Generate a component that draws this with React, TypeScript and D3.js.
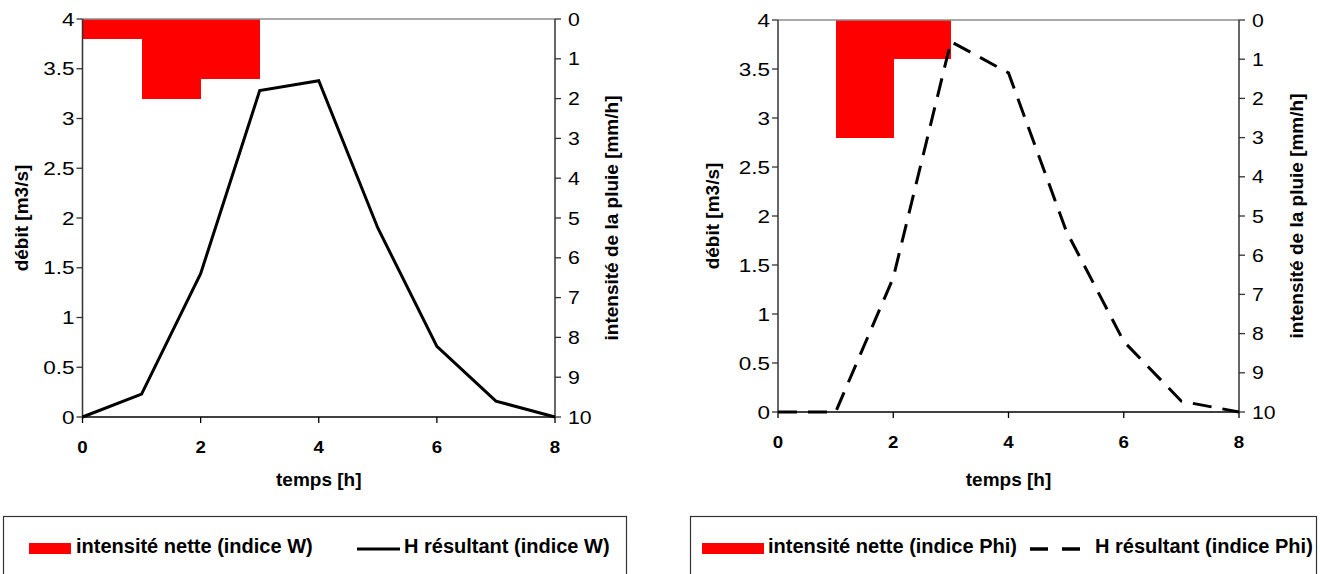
import React from "react";
import * as d3 from "d3";

const hours = [0, 1, 2, 3, 4, 5, 6, 7, 8];
const flowW = [0, 0.23, 1.44, 3.28, 3.38, 1.9, 0.71, 0.16, 0];
const flowPhi = [0, 0, 1.37, 3.78, 3.46, 1.85, 0.72, 0.11, 0];
const rainStart = [0, 1, 2];
const rainW = [0.5, 2, 1.5];
const rainPhi = [0, 3, 1];
const flowTicks = [0, 0.5, 1, 1.5, 2, 2.5, 3, 3.5, 4];
const rainTicks = [0, 1, 2, 3, 4, 5, 6, 7, 8, 9, 10];
const timeTicks = [0, 2, 4, 6, 8];

const FONT = "'Liberation Sans', Arial, Helvetica, sans-serif";

type ChartProps = {
  left: number;
  right: number;
  top: number;
  bottom: number;
  flow: number[];
  rain: number[];
  dashed: boolean;
  leftTitleX: number;
  rightTitleX: number;
};

function Chart({ left, right, top, bottom, flow, rain, dashed, leftTitleX, rightTitleX }: ChartProps) {
  const x = d3.scaleLinear().domain([0, 8]).range([left, right]);
  const y = d3.scaleLinear().domain([0, 4]).range([bottom, top]);
  const yr = d3.scaleLinear().domain([0, 10]).range([top, bottom]);
  const line = d3
    .line<number>()
    .x((_, i) => x(hours[i]))
    .y((d) => y(d));
  const midY = (top + bottom) / 2;
  return (
    <g>
      <g shapeRendering="crispEdges">
        {rain.map((v, i) =>
          v > 0 ? (
            <rect
              key={i}
              x={x(rainStart[i])}
              y={yr(0)}
              width={x(rainStart[i] + 1) - x(rainStart[i]) + 0.6}
              height={yr(v) - yr(0)}
              fill="#ff0000"
            />
          ) : null
        )}
      </g>
      <line x1={left} x2={right} y1={top} y2={top} stroke="#8c8c8c" strokeWidth={1.3} />
      <line x1={left} x2={left} y1={top} y2={bottom} stroke="#333" strokeWidth={1.5} />
      <line x1={right} x2={right} y1={top} y2={bottom} stroke="#333" strokeWidth={1.5} />
      {flowTicks.map((t) => (
        <g key={"l" + t}>
          <line x1={left - 6} x2={left} y1={y(t)} y2={y(t)} stroke="#333" strokeWidth={1.3} />
          <text
            transform={`translate(${left - 8},${y(t) + 6.5}) scale(1.25,1)`}
            textAnchor="end"
            fontSize={18}
            fontFamily={FONT}
            fill="#000"
          >
            {String(t)}
          </text>
        </g>
      ))}
      {rainTicks.map((t) => (
        <g key={"r" + t}>
          <line x1={right} x2={right + 6} y1={yr(t)} y2={yr(t)} stroke="#333" strokeWidth={1.3} />
          <text
            transform={`translate(${right + 13},${yr(t) + 6.5}) scale(1.18,1)`}
            textAnchor="start"
            fontSize={18}
            fontFamily={FONT}
            fill="#000"
          >
            {String(t)}
          </text>
        </g>
      ))}
      {timeTicks.map((t) => (
        <g key={"x" + t}>
          <line x1={x(t)} x2={x(t)} y1={bottom} y2={bottom + 6} stroke="#000" strokeWidth={1.3} />
          <text
            transform={`translate(${x(t)},${bottom + 36}) scale(1.1,1)`}
            textAnchor="middle"
            fontSize={17}
            fontWeight="bold"
            fontFamily={FONT}
            fill="#000"
          >
            {String(t)}
          </text>
        </g>
      ))}
      <path
        d={line(flow) || ""}
        fill="none"
        stroke="#000"
        strokeWidth={3}
        strokeDasharray={dashed ? "19 11" : undefined}
        strokeLinejoin="miter"
      />
      <line x1={left} x2={right} y1={bottom} y2={bottom} stroke="#000" strokeWidth={1.5} />
      <text
        transform={`translate(${leftTitleX},${midY}) rotate(-90)`}
        textAnchor="middle"
        fontSize={19}
        fontWeight="bold"
        fontFamily={FONT}
        fill="#000"
      >
        débit [m3/s]
      </text>
      <text
        transform={`translate(${rightTitleX},${midY}) rotate(-90)`}
        textAnchor="middle"
        fontSize={19}
        fontWeight="bold"
        fontFamily={FONT}
        fill="#000"
      >
        intensité de la pluie [mm/h]
      </text>
      <text x={(left + right) / 2} y={486} textAnchor="middle" fontSize={19} fontWeight="bold" fontFamily={FONT} fill="#000">
        temps [h]
      </text>
    </g>
  );
}

export default function App() {
  return (
    <div style={{ position: "absolute", left: 0, top: 0 }}>
      <svg width={1320} height={574} style={{ display: "block", background: "#fff" }}>
        <rect x={0} y={0} width={1320} height={574} fill="#fff" />
        <Chart left={82.5} right={555} top={19} bottom={417} flow={flowW} rain={rainW} dashed={false} leftTitleX={28} rightTitleX={618} />
        <Chart left={778} right={1239} top={20} bottom={412} flow={flowPhi} rain={rainPhi} dashed={true} leftTitleX={719} rightTitleX={1303} />

        <rect x={3.5} y={516.5} width={623} height={70} fill="#fff" stroke="#333" strokeWidth={1.2} />
        <rect x={29} y={543} width={42} height={11} fill="#ff0000" />
        <text x={76} y={553} fontSize={20} fontWeight="bold" fontFamily={FONT} fill="#000">
          intensité nette (indice W)
        </text>
        <line x1={357} x2={400} y1={549} y2={549} stroke="#000" strokeWidth={3} />
        <text x={404} y={553} fontSize={20} fontWeight="bold" fontFamily={FONT} fill="#000">
          H résultant (indice W)
        </text>

        <rect x={690.5} y={516.5} width={626} height={70} fill="#fff" stroke="#333" strokeWidth={1.2} />
        <rect x={702} y={543} width={62} height={11} fill="#ff0000" />
        <text x={768} y={553} fontSize={20} fontWeight="bold" fontFamily={FONT} fill="#000">
          intensité nette (indice Phi)
        </text>
        <line x1={1030} x2={1080} y1={549} y2={549} stroke="#000" strokeWidth={3.5} strokeDasharray="18 14" />
        <text x={1095} y={553} fontSize={20} fontWeight="bold" fontFamily={FONT} fill="#000">
          H résultant (indice Phi)
        </text>
      </svg>
    </div>
  );
}
